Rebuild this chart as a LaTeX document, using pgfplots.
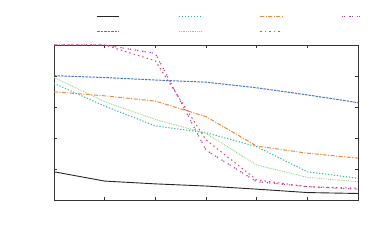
\documentclass[border=0pt]{standalone}
\usepackage{pgfplots}
\pgfplotsset{compat=1.18}
\definecolor{cblue}{HTML}{4A78C4}
\definecolor{cteal}{HTML}{2BB3A0}
\definecolor{corange}{HTML}{F0883A}
\definecolor{cpurple}{HTML}{B53FB0}
\definecolor{cgreen}{HTML}{94CF7E}
\definecolor{cred}{HTML}{E8465E}
\begin{document}
\begin{tikzpicture}
\path[use as bounding box] (0pt,0pt) rectangle (389pt,245pt);
\begin{axis}[
  at={(54pt,45pt)}, anchor=south west,
  scale only axis, width=304pt, height=155pt,
  xmin=0, xmax=6, ymin=0, ymax=5,
  xtick={0,...,6}, ytick={0,...,5},
  xticklabels={}, yticklabels={},
  tick align=inside, major tick length=3pt,
  axis line style={line width=0.8pt, black!80},
  tick style={line width=0.7pt, black!80},
  legend columns=4,
  legend image code/.code={\draw[#1] (0pt,0pt) -- (21.7pt,0pt);},
  legend style={draw=none, fill=none, inner sep=0pt, outer sep=0pt,
    at={(axis description cs:0.1414,1.135)}, anchor=west,
    nodes={inner sep=0pt, outer sep=0pt},
    row sep=14pt,
    /tikz/every odd column/.append style={column sep=0pt},
    /tikz/every even column/.append style={column sep=57.8pt}},
]
\addplot[black!85, line width=0.9pt] coordinates {(0,0.91) (1,0.61) (2,0.52) (3,0.45) (4,0.35) (5,0.24) (6,0.21)};
\addlegendentry{}
\addplot[cteal, line width=1pt, dash pattern=on 1.2pt off 1.8pt] coordinates {(0,3.76) (1,3.03) (2,2.39) (3,2.17) (4,1.72) (5,0.91) (6,0.70)};
\addlegendentry{}
\addplot[corange, line width=1pt, dash pattern=on 4pt off 1.5pt on 1pt off 1.5pt] coordinates {(0,3.49) (1,3.36) (2,3.19) (3,2.69) (4,1.74) (5,1.51) (6,1.35)};
\addlegendentry{}
\addplot[cpurple, line width=1.1pt, dash pattern=on 1.2pt off 1pt on 1.2pt off 4pt] coordinates {(0,5.0) (1,5.0) (2,4.73) (3,1.61) (4,0.59) (5,0.43) (6,0.35)};
\addlegendentry{}
\addplot[cblue, line width=1pt, dash pattern=on 2.5pt off 1pt] coordinates {(0,4.01) (1,3.95) (2,3.87) (3,3.80) (4,3.62) (5,3.39) (6,3.14)};
\addlegendentry{}
\addplot[cgreen, line width=0.9pt, dash pattern=on 0.8pt off 1pt] coordinates {(0,3.95) (1,3.17) (2,2.60) (3,2.15) (4,1.13) (5,0.73) (6,0.59)};
\addlegendentry{}
\addplot[cred, line width=1pt, dash pattern=on 1.5pt off 3pt] coordinates {(0,5.0) (1,5.0) (2,4.49) (3,1.94) (4,0.65) (5,0.43) (6,0.38)};
\addlegendentry{}
\end{axis}
\end{tikzpicture}
\end{document}
